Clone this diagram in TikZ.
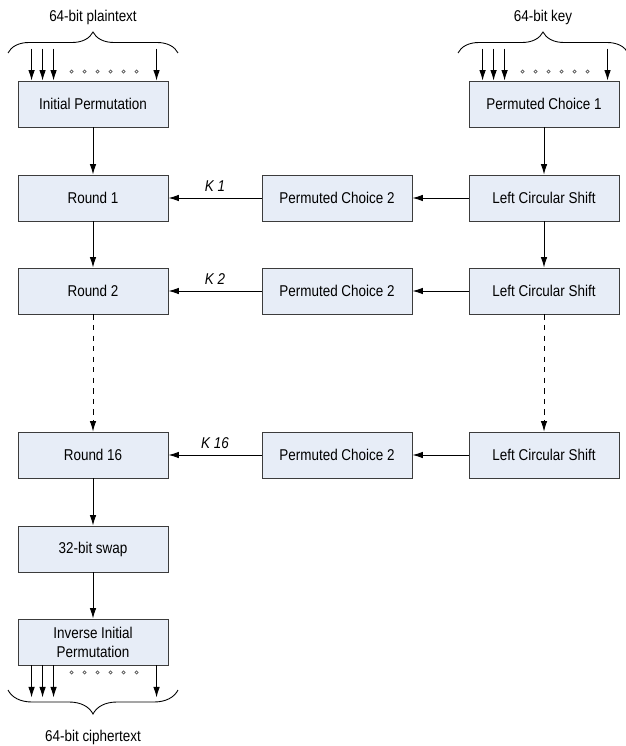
\documentclass[tikz,border=0pt]{standalone}
\usepackage{fontspec}
\setmainfont{Liberation Sans}[FakeStretch=0.86]
\usepackage{xcolor}
\usetikzlibrary{positioning, arrows.meta, decorations.pathreplacing}

\definecolor{boxfill}{RGB}{231,237,247}
\definecolor{boxline}{RGB}{60,60,60}

\begin{document}
\begin{tikzpicture}[x=0.02cm, y=-0.02cm, font=\fontsize{8.9}{10.8}\selectfont,
    >={Latex[length=2.1mm,width=1.3mm]}, line width=0.5pt,
    blk/.style={draw=boxline, fill=boxfill, minimum width=3cm, minimum height=0.92cm,
        inner sep=1pt, align=center},
    bitdot/.style={draw=black!65, line width=0.4pt},
    brc/.style={decorate, decoration={brace, amplitude=0.42cm}}]
    \useasboundingbox (0,0) rectangle (625,746);

    % data path
    \node[blk] at (93,104)  (IP)   {Initial Permutation};
    \node[blk] at (93,198)  (R1)   {Round 1};
    \node[blk] at (93,291)  (R2)   {Round 2};
    \node[blk] at (93,455)  (R16)  {Round 16};
    \node[blk] at (93,549)  (Swap) {32-bit swap};
    \node[blk] at (93,642)  (IIP)  {Inverse Initial\\Permutation};

    % key schedule
    \node[blk] at (544,104) (PC1)  {Permuted Choice 1};
    \node[blk] at (544,198) (LCS1) {Left Circular Shift};
    \node[blk] at (544,291) (LCS2) {Left Circular Shift};
    \node[blk] at (544,455) (LCS16){Left Circular Shift};
    \node[blk] at (337,198) (PCa)  {Permuted Choice 2};
    \node[blk] at (337,291) (PCb)  {Permuted Choice 2};
    \node[blk] at (337,455) (PCc)  {Permuted Choice 2};

    % outer labels
    \node at (93,17)  (plain)  {64-bit plaintext};
    \node at (543,17) (key)    {64-bit key};
    \node at (93,737) (cipher) {64-bit ciphertext};

    \coordinate (pA) at (8,53);   \coordinate (pB) at (178,53);
    \coordinate (kA) at (458,53); \coordinate (kB) at (628,53);
    \coordinate (cA) at (8,690);  \coordinate (cB) at (178,690);

    \draw[brc] (pA) -- (pB);
    \draw[brc] (kA) -- (kB);
    \draw[brc, decoration={mirror, amplitude=0.48cm}] (cA) -- (cB);

    % bit lines
    \foreach \d in {0.28,0.5,0.72,2.78} {
        \draw[->] ([xshift=\d cm, yshift=0.64cm]IP.north west) -- ([xshift=\d cm]IP.north west);
        \draw[->] ([xshift=\d cm, yshift=0.64cm]PC1.north west) -- ([xshift=\d cm]PC1.north west);
        \draw[->] ([xshift=\d cm]IIP.south west) -- ([xshift=\d cm, yshift=-0.64cm]IIP.south west);
    }
    \foreach \i in {0,...,5} {
        \draw[bitdot] ([xshift=1.08cm+\i*0.26cm, yshift=0.18cm]IP.north west) circle[radius=0.9pt];
        \draw[bitdot] ([xshift=1.08cm+\i*0.26cm, yshift=0.18cm]PC1.north west) circle[radius=0.9pt];
        \draw[bitdot] ([xshift=1.08cm+\i*0.26cm, yshift=-0.14cm]IIP.south west) circle[radius=0.9pt];
    }

    \draw[->] (IP) -- (R1);
    \draw[->] (R1) -- (R2);
    \draw[->, dashed, line width=0.45pt] (R2) -- (R16);
    \draw[->] (R16) -- (Swap);
    \draw[->] (Swap) -- (IIP);

    \draw[->] (PC1) -- (LCS1);
    \draw[->] (LCS1) -- (LCS2);
    \draw[->, dashed, line width=0.45pt] (LCS2) -- (LCS16);

    \draw[->] (LCS1) -- (PCa);
    \draw[->] (LCS2) -- (PCb);
    \draw[->] (LCS16) -- (PCc);

    \draw[->] (PCa) -- node[above, font=\fontsize{8.9}{10}\itshape] {K 1} (R1);
    \draw[->] (PCb) -- node[above, font=\fontsize{8.9}{10}\itshape] {K 2} (R2);
    \draw[->] (PCc) -- node[above, font=\fontsize{8.9}{10}\itshape] {K 16} (R16);
\end{tikzpicture}
\end{document}
